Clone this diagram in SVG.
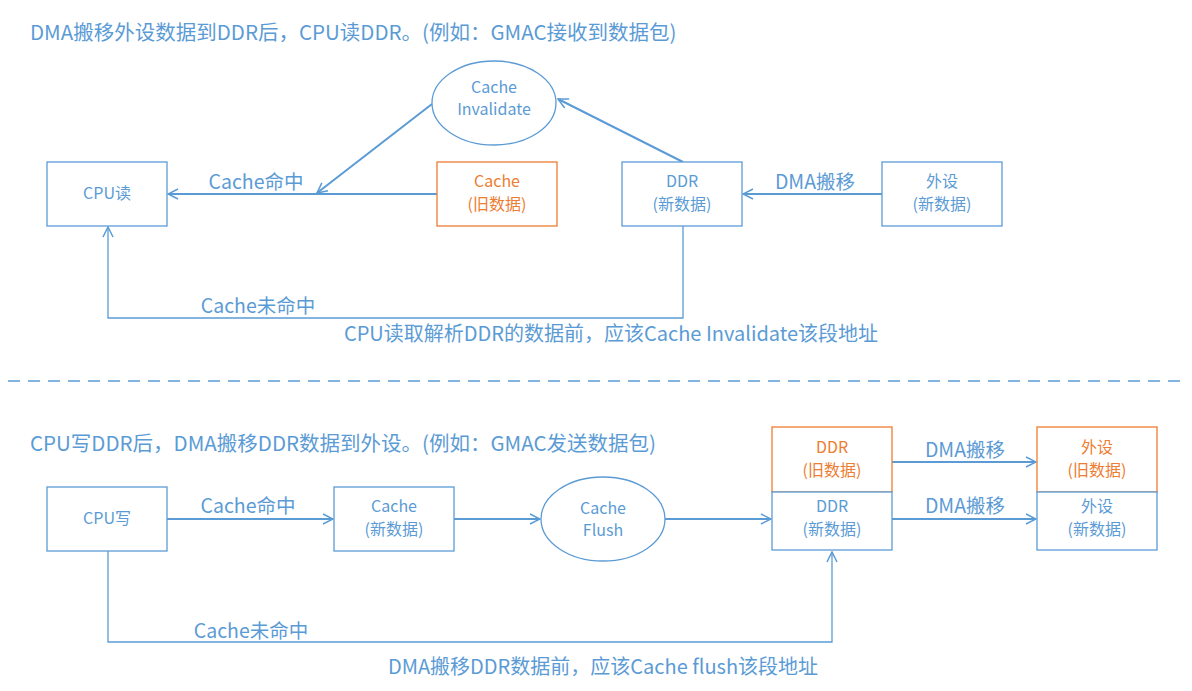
<svg xmlns="http://www.w3.org/2000/svg" width="1192" height="691" viewBox="0 0 1192 691">
<defs>
<style>
text{font-family:"Noto Sans CJK SC","Noto Sans",sans-serif;fill:#5B9BD5}
.t{font-size:20.5px}
.m{font-size:20px;text-anchor:middle}
.n{font-size:16px;text-anchor:middle}
.l{font-size:19.5px;text-anchor:middle}
.o{fill:#ED7D31}
.bx{fill:#fff;stroke:#5B9BD5;stroke-width:1.3}
.ob{fill:#fff;stroke:#ED7D31;stroke-width:1.3}
.c{fill:none;stroke:#5B9BD5;stroke-width:2;marker-end:url(#a)}
.c1{fill:none;stroke:#5B9BD5;stroke-width:1.3;marker-end:url(#a)}
</style>
<marker id="a" viewBox="0 0 12 12" refX="11" refY="6" markerWidth="12" markerHeight="12" markerUnits="userSpaceOnUse" orient="auto">
<path d="M1,1 L11,6 L1,11" fill="none" stroke="#5B9BD5" stroke-width="1.5"/>
</marker>
</defs>
<rect width="1192" height="691" fill="#fff"/>
<text class="t" x="30" y="40">DMA搬移外设数据到DDR后，CPU读DDR。(例如：GMAC接收到数据包)</text>
<g id="connectors">
<path class="c" d="M882,194 L743,194"/>
<path class="c" d="M683,162 L558,99"/>
<path class="c" d="M437,194 L168,194"/>
<path class="c" d="M432,104 L317,193"/>
<path class="c1" d="M683,226 L683,318 L108,318 L108,227"/>
<path class="c" d="M167,519 L333,519"/>
<path class="c" d="M454,519 L540,519"/>
<path class="c" d="M665,519 L771,519"/>
<path class="c" d="M892,462 L1036,462"/>
<path class="c" d="M892,519 L1036,519"/>
<path class="c1" d="M108,551 L108,642 L832,642 L832,552"/>
<text class="l" x="256" y="189">Cache命中</text>
<text class="l" x="815" y="189">DMA搬移</text>
<text class="l" x="258" y="313">Cache未命中</text>
<text class="l" x="248" y="513">Cache命中</text>
<text class="l" x="965" y="457">DMA搬移</text>
<text class="l" x="965" y="513">DMA搬移</text>
<text class="l" x="251" y="638">Cache未命中</text>
</g>
<g id="cpu-read"><rect class="bx" x="47" y="162" width="120" height="64"/><text class="n" x="107" y="199">CPU读</text></g>
<g id="cache-old"><rect class="ob" x="437" y="162" width="120" height="64"/><text class="n o" x="497" y="187">Cache</text><text class="n o" x="497" y="210">(旧数据)</text></g>
<g id="ddr-new-top"><rect class="bx" x="622" y="162" width="120" height="64"/><text class="n" x="682" y="187">DDR</text><text class="n" x="682" y="210">(新数据)</text></g>
<g id="periph-new-top"><rect class="bx" x="882" y="162" width="120" height="64"/><text class="n" x="942" y="187">外设</text><text class="n" x="942" y="210">(新数据)</text></g>
<g id="cache-invalidate"><ellipse class="bx" cx="494" cy="103" rx="62" ry="42"/><text class="n" x="494" y="93">Cache</text><text class="n" x="494" y="115">Invalidate</text></g>
<text class="m" x="611" y="341">CPU读取解析DDR的数据前，应该Cache Invalidate该段地址</text>
<line x1="8" y1="381" x2="1185" y2="381" stroke="#5B9BD5" stroke-width="1.5" stroke-dasharray="12,8"/>
<text class="t" x="30" y="451">CPU写DDR后，DMA搬移DDR数据到外设。(例如：GMAC发送数据包)</text>
<g id="cpu-write"><rect class="bx" x="47" y="487" width="120" height="64"/><text class="n" x="107" y="524">CPU写</text></g>
<g id="cache-new"><rect class="bx" x="334" y="487" width="120" height="64"/><text class="n" x="394" y="512">Cache</text><text class="n" x="394" y="535">(新数据)</text></g>
<g id="cache-flush"><ellipse class="bx" cx="603" cy="519" rx="62" ry="42"/><text class="n" x="603" y="514">Cache</text><text class="n" x="603" y="536">Flush</text></g>
<g id="ddr-old"><rect class="ob" x="772" y="427" width="120" height="65"/><text class="n o" x="832" y="453">DDR</text><text class="n o" x="832" y="476">(旧数据)</text></g>
<g id="ddr-new"><rect class="bx" x="772" y="492" width="120" height="58"/><text class="n" x="832" y="512">DDR</text><text class="n" x="832" y="535">(新数据)</text></g>
<g id="periph-old"><rect class="ob" x="1037" y="427" width="120" height="65"/><text class="n o" x="1097" y="453">外设</text><text class="n o" x="1097" y="476">(旧数据)</text></g>
<g id="periph-new"><rect class="bx" x="1037" y="492" width="120" height="58"/><text class="n" x="1097" y="512">外设</text><text class="n" x="1097" y="535">(新数据)</text></g>
<text class="m" x="603" y="674">DMA搬移DDR数据前，应该Cache flush该段地址</text>
</svg>
